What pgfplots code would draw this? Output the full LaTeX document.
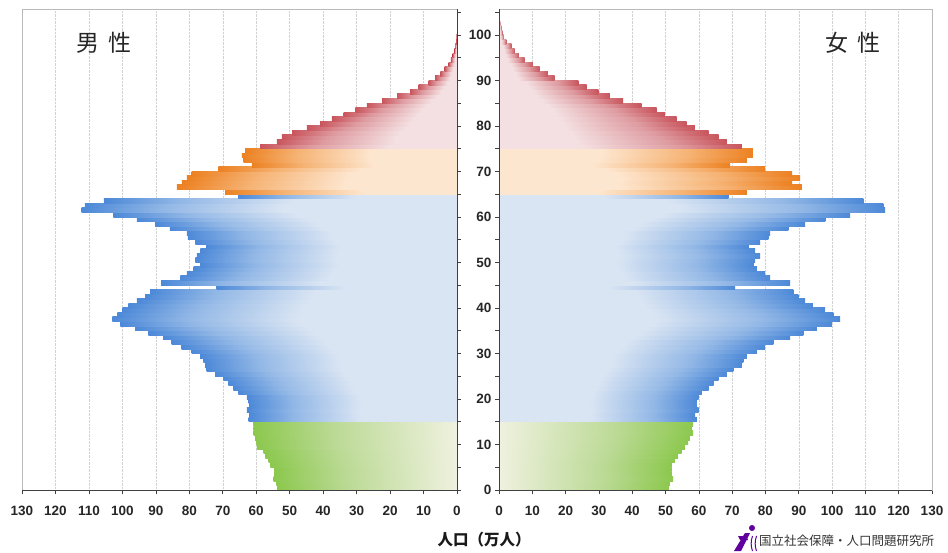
\documentclass[border=0pt]{standalone}
\usepackage{pgfplots}
\pgfplotsset{compat=1.18}
\usepackage{fontspec}
\setmainfont{Liberation Sans}
\newfontfamily\jp{Noto Sans CJK JP}
\definecolor{gD}{HTML}{8CC84E}\definecolor{gM}{HTML}{BCDA96}\definecolor{gL}{HTML}{EFF1DF}
\definecolor{bD}{HTML}{4D89D8}\definecolor{bM}{HTML}{93B8E6}\definecolor{bL}{HTML}{DAE5F3}
\definecolor{oD}{HTML}{EC8122}\definecolor{oM}{HTML}{F6B476}\definecolor{oL}{HTML}{FDE6CF}
\definecolor{rD}{HTML}{C9555D}\definecolor{rM}{HTML}{DE9CA1}\definecolor{rL}{HTML}{F4E0E2}
% male: dark at left end (25bp), light at centre (75bp)
\pgfdeclarehorizontalshading{gLft}{100bp}{color(0bp)=(gD); color(25bp)=(gD); color(45bp)=(gM); color(75bp)=(gL); color(100bp)=(gL)}
\pgfdeclarehorizontalshading{bLft}{100bp}{color(0bp)=(bD); color(25bp)=(bD); color(36bp)=(bM); color(52bp)=(bL); color(75bp)=(bL); color(100bp)=(bL)}
\pgfdeclarehorizontalshading{oLft}{100bp}{color(0bp)=(oD); color(25bp)=(oD); color(38bp)=(oM); color(55bp)=(oL); color(75bp)=(oL); color(100bp)=(oL)}
\pgfdeclarehorizontalshading{rLft}{100bp}{color(0bp)=(rD); color(25bp)=(rD); color(38bp)=(rM); color(58bp)=(rL); color(75bp)=(rL); color(100bp)=(rL)}
% female: light at centre (25bp), dark at right end (75bp)
\pgfdeclarehorizontalshading{gRgt}{100bp}{color(0bp)=(gL); color(25bp)=(gL); color(55bp)=(gM); color(75bp)=(gD); color(100bp)=(gD)}
\pgfdeclarehorizontalshading{bRgt}{100bp}{color(0bp)=(bL); color(25bp)=(bL); color(48bp)=(bL); color(64bp)=(bM); color(75bp)=(bD); color(100bp)=(bD)}
\pgfdeclarehorizontalshading{oRgt}{100bp}{color(0bp)=(oL); color(25bp)=(oL); color(45bp)=(oL); color(62bp)=(oM); color(75bp)=(oD); color(100bp)=(oD)}
\pgfdeclarehorizontalshading{rRgt}{100bp}{color(0bp)=(rL); color(25bp)=(rL); color(42bp)=(rL); color(62bp)=(rM); color(75bp)=(rD); color(100bp)=(rD)}
\pgfplotsset{pyr/.style={
  scale only axis, anchor=south west, height=481pt,
  ymin=0, ymax=105.7, xmin=0, xmax=130,
  xtick={0,10,...,130}, ytick={0,10,...,100}, minor ytick={5,15,...,105},
  axis line style={draw=gray!55, line width=0.6pt},
  xmajorgrids, major grid style={densely dotted, gray!35, line width=0.5pt},
  tick style={black!75, line width=0.6pt}, major tick length=4pt, minor tick length=4pt,
  tick align=outside, xtick pos=left,
  ticklabel style={font=\fontsize{13.5}{14}\selectfont\bfseries, text=black!85},
  /pgf/number format/assume math mode=true,
  xticklabel style={yshift=-9pt},
  clip=false,
}, bars/.style={xbar, bar width=1.06, bar shift=0pt, draw=none, fill=none, shade}}
% one \addplot per bar, so that each bar gets its own gradient
\newcommand\pyrbars[2]{\foreach \v/\a in {#2}{\edef\tmp{\noexpand\addplot[bars, shading=#1] coordinates {(\v,\a)};}\tmp}}
\begin{document}
\begin{tikzpicture}
\path[use as bounding box] (0pt,0pt) rectangle (948pt,552pt);
% ---------------- male ----------------
\begin{axis}[pyr, at={(22pt,62pt)}, width=435pt, x dir=reverse, ytick pos=right, yticklabels={}]
\pyrbars{gLft}{53.6/0.5,54.0/1.5,54.8/2.5,54.6/3.5,54.6/4.5,55.8/5.5,56.3/6.5,57.3/7.5,57.8/8.5,59.8/9.5,60.0/10.5,60.3/11.5,60.8/12.5,60.8/13.5,60.8/14.5}
\pyrbars{bLft}{62.3/15.5,62.0/16.5,62.8/17.5,62.0/18.5,62.3/19.5,62.8/20.5,65.3/21.5,66.8/22.5,68.3/23.5,69.8/24.5,72.3/25.5,74.8/26.5,75.3/27.5,75.8/28.5,76.8/29.5,79.3/30.5,82.3/31.5,85.3/32.5,87.8/33.5,92.2/34.5,96.2/35.5,100.6/36.5,103.0/37.5,101.5/38.5,100.0/39.5,98.2/40.5,95.7/41.5,93.2/42.5,91.7/43.5,71.8/44.5,88.4/45.5,82.7/46.5,80.7/47.5,78.7/48.5,76.7/49.5,78.2/50.5,77.7/51.5,76.7/52.5,74.8/53.5,78.2/54.5,80.4/55.5,80.7/56.5,85.8/57.5,90.2/58.5,95.7/59.5,102.7/60.5,112.2/61.5,111.2/62.5,105.5/63.5,65.3/64.5}
\pyrbars{oLft}{69.3/65.5,83.7/66.5,82.2/67.5,80.7/68.5,79.3/69.5,71.3/70.5,61.3/71.5,63.8/72.5,64.3/73.5,63.3/74.5}
\pyrbars{rLft}{58.8/75.5,53.8/76.5,52.3/77.5,49.3/78.5,44.9/79.5,40.9/80.5,37.4/81.5,33.9/82.5,30.4/83.5,26.9/84.5,22.4/85.5,17.9/86.5,14.0/87.5,11.5/88.5,8.5/89.5,6.5/90.5,5.0/91.5,3.7/92.5,2.5/93.5,1.8/94.5,1.3/95.5,0.8/96.5,0.5/97.5,0.3/98.5,0.2/99.5,0.1/100.5,0.05/101.5}
\draw[black!75, line width=0.7pt] (axis cs:0,105.7) -- (axis cs:0,0) -- (axis cs:130,0);
\end{axis}
% ---------------- female ----------------
\begin{axis}[pyr, at={(499pt,62pt)}, width=433pt, ytick pos=left]
\pyrbars{gRgt}{51.0/0.5,51.3/1.5,52.3/2.5,51.8/3.5,51.8/4.5,51.8/5.5,52.8/6.5,53.8/7.5,54.8/8.5,55.8/9.5,56.8/10.5,57.3/11.5,58.3/12.5,57.8/13.5,58.3/14.5}
\pyrbars{bRgt}{59.4/15.5,58.9/16.5,59.9/17.5,59.3/18.5,59.3/19.5,59.9/20.5,60.9/21.5,62.9/22.5,64.4/23.5,65.9/24.5,68.4/25.5,70.4/26.5,72.9/27.5,73.4/28.5,74.4/29.5,77.4/30.5,79.9/31.5,82.4/32.5,87.4/33.5,91.4/34.5,95.4/35.5,99.9/36.5,102.4/37.5,100.4/38.5,97.9/39.5,94.2/40.5,91.9/41.5,89.9/42.5,88.4/43.5,70.9/44.5,87.4/45.5,81.4/46.5,79.9/47.5,77.4/48.5,76.4/49.5,76.9/50.5,78.4/51.5,76.9/52.5,74.9/53.5,78.4/54.5,80.9/55.5,81.4/56.5,86.9/57.5,91.9/58.5,98.0/59.5,105.4/60.5,115.9/61.5,115.4/62.5,109.4/63.5,68.9/64.5}
\pyrbars{oRgt}{74.4/65.5,90.9/66.5,88.0/67.5,90.4/68.5,88.0/69.5,79.9/70.5,69.4/71.5,74.4/72.5,76.2/73.5,76.2/74.5}
\pyrbars{rRgt}{72.9/75.5,68.4/76.5,65.9/77.5,62.9/78.5,58.8/79.5,56.3/80.5,53.3/81.5,49.8/82.5,47.3/83.5,42.8/84.5,37.3/85.5,33.3/86.5,29.8/87.5,26.3/88.5,23.8/89.5,16.7/90.5,14.7/91.5,12.2/92.5,10.2/93.5,7.7/94.5,6.0/95.5,4.7/96.5,3.7/97.5,2.2/98.5,1.4/99.5,1.0/100.5,0.7/101.5,0.4/102.5,0.2/103.5,0.1/104.5}
\draw[black!75, line width=0.7pt] (axis cs:0,105.7) -- (axis cs:0,0) -- (axis cs:130,0);
\end{axis}
% ---------------- texts ----------------
\node[font=\jp\fontsize{23}{23}\selectfont, text=black!85] at (104pt,509pt) {男\hspace{9pt}性};
\node[font=\jp\fontsize{23}{23}\selectfont, text=black!85] at (853pt,509pt) {女\hspace{9pt}性};
\node[font=\jp\bfseries\fontsize{15.5}{16}\selectfont, text=black!90] at (484pt,12pt) {人口（万人）};
\node[anchor=west, font=\jp\fontsize{12.5}{13}\selectfont, text=black!80, inner sep=0pt] at (759pt,11pt) {国立社会保障・人口問題研究所};
% logo mark
\fill[violet!75!blue] (752pt,24pt) circle (3pt);
\fill[violet!75!blue] (734pt,1pt) -- (741pt,1pt) -- (750pt,19pt) -- (745pt,19pt) -- cycle;
\fill[violet!75!blue] (746pt,16pt) -- (738pt,16pt) -- (740pt,12pt) -- (748pt,12pt) -- cycle;
\draw[violet!75!blue, line width=1pt] (752.5pt,16pt) arc[start angle=160, end angle=200, radius=22pt];
\draw[violet!75!blue, line width=1pt] (756.5pt,16pt) arc[start angle=160, end angle=200, radius=22pt];
\end{tikzpicture}
\end{document}
